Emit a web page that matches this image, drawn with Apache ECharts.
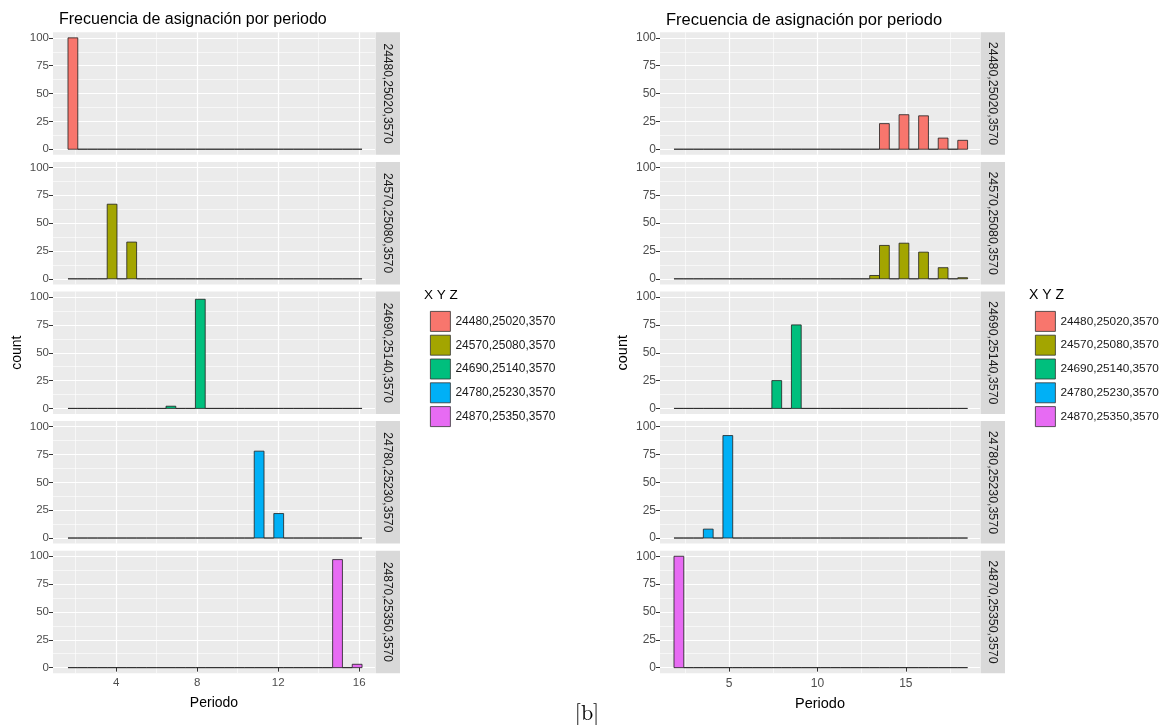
<!DOCTYPE html>
<html>
<head>
<meta charset="utf-8">
<script src="https://cdn.jsdelivr.net/npm/echarts@6/dist/echarts.min.js"></script>
<style>
html, body { margin: 0; padding: 0; background: #ffffff; }
#chart { width: 1169px; height: 725px; }
</style>
</head>
<body>
<div id="chart"></div>
<script>
// Facet groups (X Y Z coordinates) and their fill colours
const groups = ['24480,25020,3570', '24570,25080,3570', '24690,25140,3570', '24780,25230,3570', '24870,25350,3570'];
const groupColors = ['#F8766D', '#A3A500', '#00BF7D', '#00B0F6', '#E76BF3'];

// Histogram layout: 30 bins per facet
const BIN_COUNT = 30;
const leftBinStart = 1.62, leftBinWidth = 0.484;
const rightBinStart = 1.877, rightBinWidth = 0.554;

// Non-empty bins (index) and their counts, one list per facet
const leftBinIdx = [[0], [4, 6], [10, 13], [19, 21], [27, 29]];
const leftCounts = [[100], [67, 33], [2, 98], [78, 22], [97, 3]];
const rightBinIdx = [[21, 23, 25, 27, 29], [20, 21, 23, 25, 27, 29], [10, 12], [3, 5], [0]];
const rightCounts = [[23, 31, 30, 10, 8], [3, 30, 32, 24, 10, 1], [25, 75], [8, 92], [100]];

// Axis ranges and tick labels
const leftXRange = [0.88, 16.78];
const rightXRange = [1.085, 19.2];
const leftXTicks = [4, 8, 12, 16];
const leftXMinor = [2, 6, 10, 14];
const rightXTicks = [5, 10, 15];
const rightXMinor = [2.5, 7.5, 12.5, 17.5];
const yRange = [-5, 105];
const yTicks = [0, 25, 50, 75, 100];
const yMinor = [12.5, 37.5, 62.5, 87.5];

const titleText = 'Frecuencia de asignación por periodo';
const xTitle = 'Periodo';
const yTitle = 'count';
const legendTitle = 'X Y Z';

const FONT = "'Liberation Sans', Arial, sans-serif";

function histogramRows(binStart, binWidth, idx, counts) {
  const rows = [];
  for (let i = 0; i < BIN_COUNT; i++) {
    const k = idx.indexOf(i);
    rows.push([binStart + i * binWidth, binStart + (i + 1) * binWidth, k >= 0 ? counts[k] : 0]);
  }
  return rows;
}

function renderBin(params, api) {
  const top = api.coord([api.value(0), api.value(2)]);
  const bottom = api.coord([api.value(1), 0]);
  return {
    type: 'rect',
    shape: { x: top[0], y: top[1], width: bottom[0] - top[0], height: bottom[1] - top[1] },
    style: { fill: api.visual('color'), stroke: '#202020', lineWidth: 0.8 }
  };
}

const sides = [
  { left: 53, width: 322, xRange: leftXRange, xTicks: leftXTicks, xMinor: leftXMinor,
    binStart: leftBinStart, binWidth: leftBinWidth, binIdx: leftBinIdx, counts: leftCounts,
    tickFont: 11.5, stripFont: 12, legendFont: 12, titleFont: 16, axisFont: 14, legendLeft: 425, countGap: 29 },
  { left: 660, width: 320, xRange: rightXRange, xTicks: rightXTicks, xMinor: rightXMinor,
    binStart: rightBinStart, binWidth: rightBinWidth, binIdx: rightBinIdx, counts: rightCounts,
    tickFont: 12, stripFont: 12.4, legendFont: 11.8, titleFont: 16.5, axisFont: 14.5, legendLeft: 1030, countGap: 30 }
];
const panelTops = [32.3, 161.9, 291.5, 421.1, 550.7];
const panelH = 122.5;
const stripW = 24.5;

const grid = [], xAxis = [], yAxis = [], series = [], graphic = [], title = [], legend = [];

sides.forEach((s, si) => {
  title.push({
    text: titleText, left: s.left + 1, top: 7,
    textStyle: { fontFamily: FONT, fontSize: s.titleFont, fontWeight: 'normal', color: '#000' }
  });

  legend.push({
    data: groups, orient: 'vertical', left: s.legendLeft, top: 306,
    itemWidth: 20, itemHeight: 20, itemGap: 3, icon: 'rect', selectedMode: false,
    itemStyle: { borderColor: '#333', borderWidth: 0.8 },
    textStyle: { fontFamily: FONT, fontSize: s.legendFont, color: '#1A1A1A' }
  });

  graphic.push({
    type: 'text', left: s.legendLeft - 1, top: 288,
    style: { text: legendTitle, font: `${s.axisFont - 0.5}px ${FONT}`, fill: '#000' }
  });

  panelTops.forEach((top, p) => {
    const g = si * 5 + p;
    const bottomPanel = p === 4;
    grid.push({
      left: s.left, top: top, width: s.width, height: panelH,
      show: true, backgroundColor: '#EBEBEB', borderWidth: 0
    });

    // major x gridlines, ticks and labels
    xAxis.push({
      type: 'value', gridIndex: g, min: s.xRange[0], max: s.xRange[1], position: 'bottom',
      axisLine: { show: false },
      axisTick: { show: bottomPanel, customValues: s.xTicks, length: 4, lineStyle: { color: '#333', width: 1 } },
      axisLabel: { show: bottomPanel, customValues: s.xTicks, color: '#4D4D4D', fontSize: s.tickFont, fontFamily: FONT, margin: 4 },
      splitLine: { show: true, lineStyle: { color: '#FFFFFF', width: 1.2 } },
      name: bottomPanel ? xTitle : '', nameLocation: 'middle', nameGap: 23,
      nameTextStyle: { fontFamily: FONT, fontSize: s.axisFont, color: '#000' }
    });
    // minor x gridlines
    xAxis.push({
      type: 'value', gridIndex: g, min: s.xRange[0], max: s.xRange[1], position: 'top',
      axisLine: { show: false },
      axisTick: { show: false, customValues: s.xMinor },
      axisLabel: { show: false, customValues: s.xMinor },
      splitLine: { show: true, lineStyle: { color: '#FFFFFF', width: 0.6 } }
    });

    yAxis.push({
      type: 'value', gridIndex: g, min: yRange[0], max: yRange[1], position: 'left',
      axisLine: { show: false },
      axisTick: { show: true, customValues: yTicks, length: 4, lineStyle: { color: '#333', width: 1 } },
      axisLabel: { show: true, customValues: yTicks, color: '#4D4D4D', fontSize: s.tickFont, fontFamily: FONT, margin: 4 },
      splitLine: { show: true, lineStyle: { color: '#FFFFFF', width: 1.2 } },
      name: p === 2 ? yTitle : '', nameLocation: 'middle', nameGap: s.countGap,
      nameTextStyle: { fontFamily: FONT, fontSize: s.axisFont, color: '#000' }
    });
    yAxis.push({
      type: 'value', gridIndex: g, min: yRange[0], max: yRange[1], position: 'right',
      axisLine: { show: false },
      axisTick: { show: false, customValues: yMinor },
      axisLabel: { show: false, customValues: yMinor },
      splitLine: { show: true, lineStyle: { color: '#FFFFFF', width: 0.6 } }
    });

    series.push({
      type: 'custom', name: groups[p],
      xAxisIndex: 2 * g, yAxisIndex: 2 * g,
      color: groupColors[p],
      renderItem: renderBin,
      encode: { x: [0, 1], y: 2 },
      data: histogramRows(s.binStart, s.binWidth, s.binIdx[p], s.counts[p]),
      z: 3, silent: true
    });

    // facet strip on the right of each panel
    const sx = s.left + s.width + 0.5;
    graphic.push({
      type: 'rect', left: sx, top: top,
      shape: { width: stripW, height: panelH },
      style: { fill: '#D9D9D9' }, silent: true
    });
    graphic.push({
      type: 'text', x: sx + stripW / 2, y: top + panelH / 2, rotation: -Math.PI / 2,
      style: { text: groups[p], font: `${s.stripFont}px ${FONT}`, fill: '#1A1A1A', align: 'center', verticalAlign: 'middle' },
      silent: true
    });
  });
});

graphic.push({
  type: 'text', x: 587, y: 713,
  style: { text: '[b]', font: "22px 'Latin Modern Roman', 'DejaVu Serif', 'Liberation Serif', serif", fill: '#000', align: 'center', verticalAlign: 'middle' }
});

const chart = echarts.init(document.getElementById('chart'), null, { renderer: 'canvas' });
chart.setOption({
  backgroundColor: '#FFFFFF',
  animation: false,
  title, legend, grid, xAxis, yAxis, series, graphic
});
</script>
</body>
</html>
